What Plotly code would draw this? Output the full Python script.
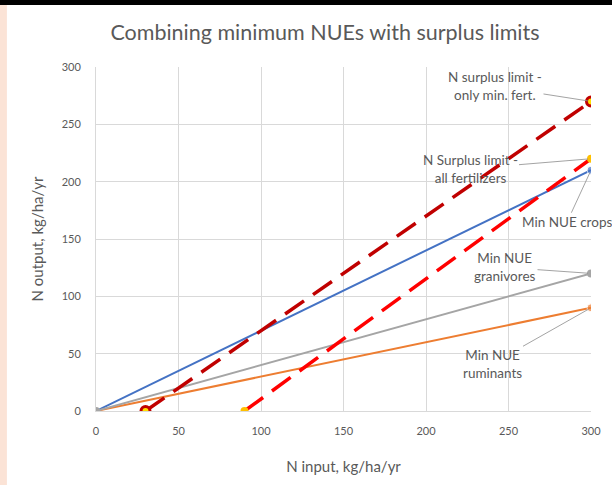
import plotly.graph_objects as go

# N input (x) and N output (y) end points for each series
crops_x = [0, 300]
crops_y = [0, 210]
granivores_x = [0, 300]
granivores_y = [0, 120]
ruminants_x = [0, 300]
ruminants_y = [0, 90]
min_fert_x = [30, 300]
min_fert_y = [0, 270]
all_fert_x = [90, 300]
all_fert_y = [0, 220]

x_ticks = [0, 50, 100, 150, 200, 250, 300]
y_ticks = [0, 50, 100, 150, 200, 250, 300]

FONT = "Lato, 'Open Sans', sans-serif"
TEXT_GREY = "#595959"

fig = go.Figure()

fig.add_trace(go.Scatter(
    x=crops_x, y=crops_y, mode="lines+markers", name="Min NUE crops",
    line=dict(color="#4472C4", width=2),
    marker=dict(size=[0, 8], color="#4472C4"),
))
fig.add_trace(go.Scatter(
    x=ruminants_x, y=ruminants_y, mode="lines+markers", name="Min NUE ruminants",
    line=dict(color="#ED7D31", width=2),
    marker=dict(size=[0, 8], color="#ED7D31"),
))
fig.add_trace(go.Scatter(
    x=granivores_x, y=granivores_y, mode="lines+markers", name="Min NUE granivores",
    line=dict(color="#A5A5A5", width=2),
    marker=dict(size=8, color="#A5A5A5"),
))
fig.add_trace(go.Scatter(
    x=all_fert_x, y=all_fert_y, mode="lines+markers", name="N Surplus limit - all fertilizers",
    line=dict(color="#FF0000", width=3.5, dash="23px,11px"),
    marker=dict(size=8, color="#FFC000"),
))
fig.add_trace(go.Scatter(
    x=min_fert_x, y=min_fert_y, mode="lines+markers", name="N surplus limit - only min. fert.",
    line=dict(color="#C00000", width=3.5, dash="23px,11px"),
    marker=dict(size=9, color="#FFE000", line=dict(color="#C00000", width=3)),
))

# callout labels with thin leader lines
labels = [
    (300, 270, "N surplus limit -<br>only min. fert.", -96, -15),
    (300, 220, "N Surplus limit -<br>all fertilizers", -121, 10),
    (300, 210, "Min NUE crops", -24, 52),
    (300, 120, "Min NUE<br>granivores", -86, -6),
    (300, 90, "Min NUE<br>ruminants", -99, 56),
]
for x, y, text, ax, ay in labels:
    fig.add_annotation(
        x=x, y=y, text=text, showarrow=True, arrowhead=0, arrowwidth=0.8,
        arrowcolor="#8C8C8C", ax=ax, ay=ay, standoff=3,
        font=dict(family=FONT, size=13.5, color=TEXT_GREY), align="center",
    )

# page decoration: black top bar and pink left strip
fig.add_shape(type="rect", xref="paper", yref="paper", x0=-0.2, x1=1.05,
              y0=1.1802, y1=1.1948, fillcolor="black", line_width=0, layer="above")
fig.add_shape(type="rect", xref="paper", yref="paper", x0=-0.2, x1=-0.18,
              y0=-0.22, y1=1.1802, fillcolor="#FBE3D6", line_width=0, layer="above")

fig.update_layout(
    width=612, height=485,
    margin=dict(l=96, r=21, t=67, b=74),
    paper_bgcolor="white", plot_bgcolor="white",
    showlegend=False,
    font=dict(family=FONT, color=TEXT_GREY),
    title=dict(text="Combining minimum NUEs with surplus limits", x=0.531, xanchor="center",
               y=0.934, yanchor="middle", font=dict(family=FONT, size=21.5, color=TEXT_GREY)),
    xaxis=dict(
        range=[0, 300], tickvals=x_ticks, showgrid=True, gridcolor="#D9D9D9",
        zeroline=False, showline=True, linecolor="#D9D9D9",
        tickfont=dict(size=11, color=TEXT_GREY), ticks="", ticklabelstandoff=10,
        title=dict(text="N input, kg/ha/yr", font=dict(size=15, color=TEXT_GREY), standoff=25),
    ),
    yaxis=dict(
        range=[0, 300], tickvals=y_ticks, showgrid=True, gridcolor="#D9D9D9",
        zeroline=False, showline=True, linecolor="#D9D9D9",
        tickfont=dict(size=11, color=TEXT_GREY), ticks="", ticklabelstandoff=12,
        title=dict(text="N output, kg/ha/yr", font=dict(size=15, color=TEXT_GREY), standoff=14),
    ),
)

# the page body has a default 8px margin; drop it so the figure sits at the window corner
fig.write_html("out.html", config={"displayModeBar": False},
               post_script="document.body.style.margin='0';")
